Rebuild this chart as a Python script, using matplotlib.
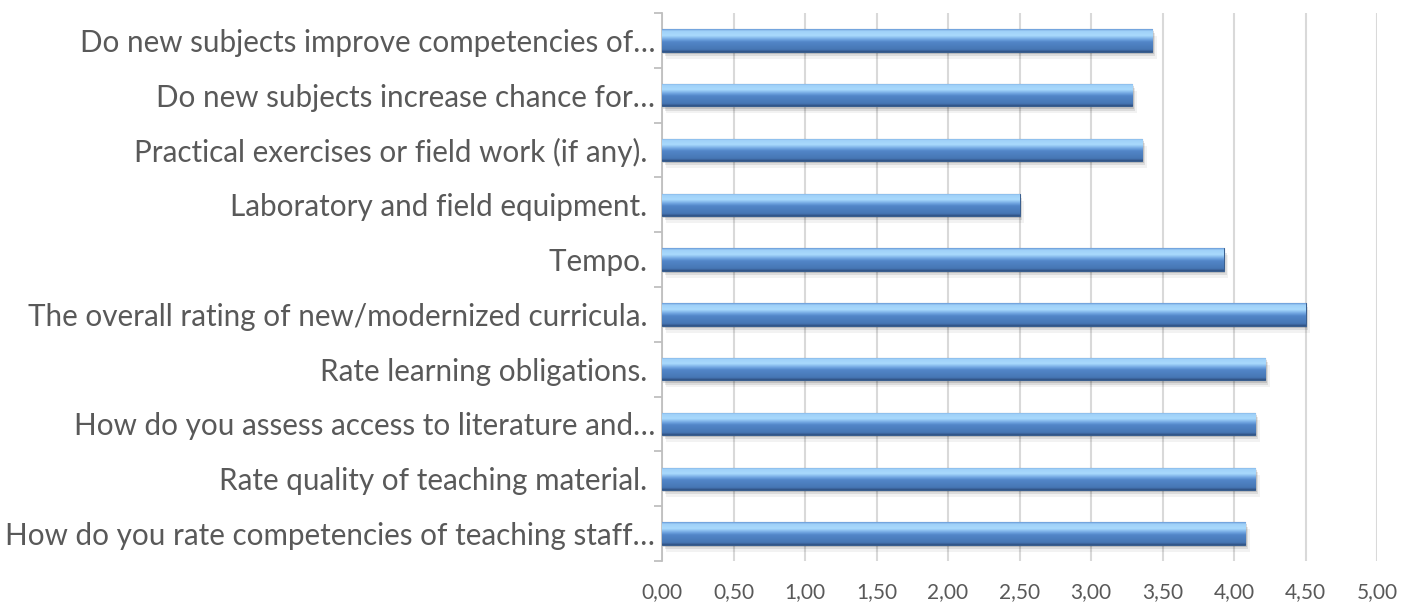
import numpy as np
import matplotlib
matplotlib.use('Agg')
import matplotlib.pyplot as plt
import matplotlib.patheffects as pe
from matplotlib.colors import LinearSegmentedColormap
from matplotlib.ticker import FuncFormatter

# Questions (bottom to top) and mean ratings
questions = [
    'How do you rate competencies of teaching staff\u2026',
    'Rate quality of teaching material. ',
    'How do you assess access to literature and\u2026',
    'Rate learning obligations. ',
    'The overall rating of new/modernized curricula. ',
    'Tempo. ',
    'Laboratory and field equipment. ',
    'Practical exercises or field work (if any). ',
    'Do new subjects increase chance for\u2026',
    'Do new subjects improve competencies of\u2026',
]
ratings = [4.08, 4.15, 4.15, 4.22, 4.50, 3.93, 2.50, 3.36, 3.29, 3.43]
x_ticks = np.arange(0, 5.01, 0.5)

plt.rcParams['font.family'] = ['Lato', 'DejaVu Sans']

fig = plt.figure(figsize=(14.01, 6.02), dpi=100)
ax = fig.add_axes([662 / 1401, 1 - 561 / 602, (1377 - 662) / 1401, (561 - 13) / 602])

# vertical gradient for the bevelled bars (top -> bottom)
grad = LinearSegmentedColormap.from_list('bar', [
    (0.0, '#6a9bd8'), (0.08, '#9fd0f8'), (0.28, '#aadafd'),
    (0.45, '#6fa4e0'), (0.56, '#5286c8'), (0.9, '#4676b4'), (1.0, '#2f5080')])
gvals = np.linspace(0, 1, 64).reshape(-1, 1)

ypos = np.arange(len(questions))
bars = ax.barh(ypos, ratings, height=0.41, color='#4f81bd', edgecolor='#3a5f8f',
               linewidth=0.8, zorder=3)
for b in bars:
    b.set_path_effects([
        pe.SimplePatchShadow(offset=(3, -5), shadow_rgbFace='#000000', alpha=0.05),
        pe.SimplePatchShadow(offset=(2, -3), shadow_rgbFace='#000000', alpha=0.09),
        pe.SimplePatchShadow(offset=(1, -1.5), shadow_rgbFace='#000000', alpha=0.12),
        pe.Normal()])
    x0, y0 = b.get_x(), b.get_y()
    w, h = b.get_width(), b.get_height()
    im = ax.imshow(gvals, cmap=grad, aspect='auto', extent=(x0, x0 + w, y0, y0 + h),
                   origin='upper', zorder=3.5, interpolation='bilinear')
    im.set_clip_path(b)

ax.set_xlim(0, 5.0)
ax.set_ylim(-0.5, len(questions) - 0.5)
ax.set_xticks(x_ticks)
ax.xaxis.set_major_formatter(FuncFormatter(lambda v, p: f'{v:.2f}'.replace('.', ',')))
ax.set_yticks(ypos)
ax.set_yticklabels(questions)
ax.set_yticks(np.arange(-0.5, len(questions), 1.0), minor=True)

ax.grid(axis='x', color='#d9d9d9', linewidth=1.5, zorder=0)
ax.set_axisbelow(True)
for s in ['top', 'right', 'bottom']:
    ax.spines[s].set_visible(False)
ax.spines['left'].set_color('#bfbfbf')
ax.spines['left'].set_linewidth(1.3)

ax.tick_params(axis='y', which='major', length=0, pad=5, labelsize=21.3, labelcolor='#595959')
ax.tick_params(axis='y', which='minor', length=6, width=1.3, color='#bfbfbf')
ax.tick_params(axis='x', length=0, pad=15, labelsize=15, labelcolor='#595959')

fig.savefig('out.png', dpi=100)
